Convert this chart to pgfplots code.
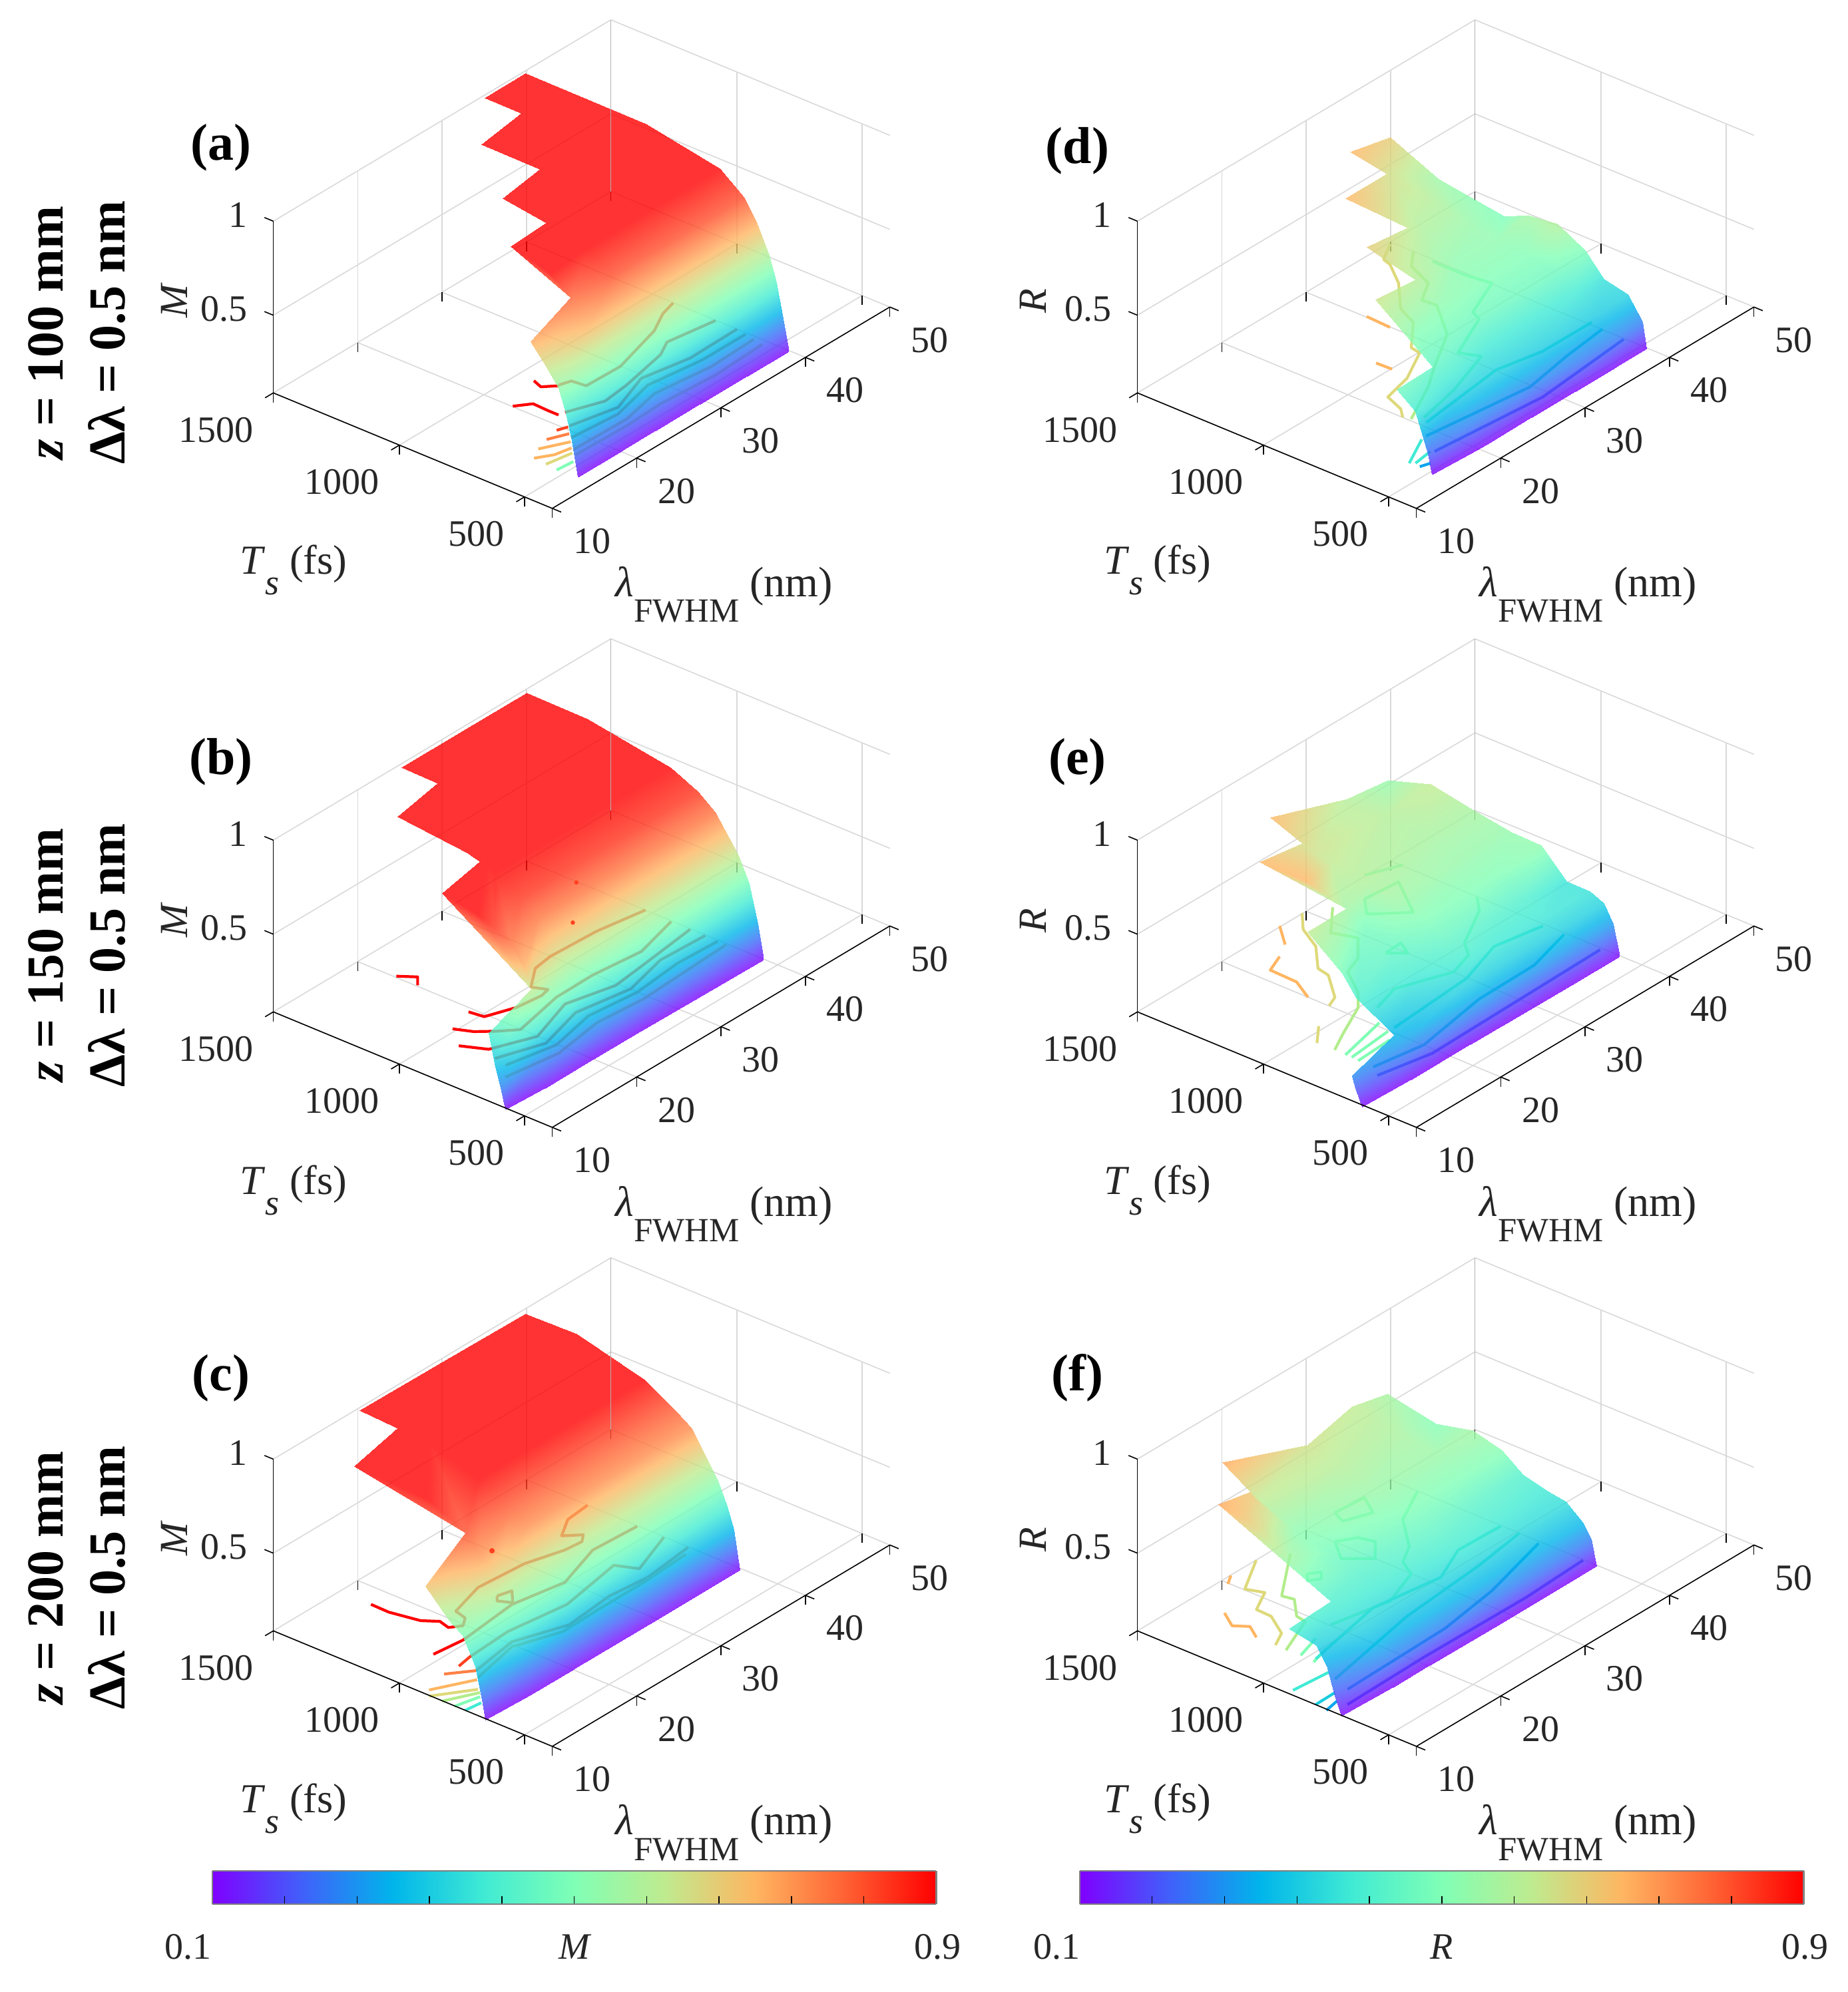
\documentclass[border=0pt]{standalone}
\usepackage{fontspec}
\usepackage{pgfplots}
\pgfplotsset{compat=1.18}
\setmainfont{Liberation Serif}
\definecolor{tk}{gray}{0.15}
\definecolor{cA}{rgb}{1,.25,.12}
\definecolor{cB}{rgb}{1,.5,.27}
\definecolor{cC}{rgb}{1,.71,.38}
\definecolor{cD}{rgb}{.87,.85,.48}
\definecolor{cE}{rgb}{.7,.93,.55}
\definecolor{cF}{rgb}{.5,1,.71}
\definecolor{cG}{rgb}{.25,.92,.83}
\definecolor{cH}{rgb}{.1,.8,.88}
\definecolor{cI}{rgb}{.05,.65,.93}
\definecolor{cJ}{rgb}{.25,.38,.98}
\pgfplotsset{colormap={rb}{rgb=(.5,0,1) rgb=(.25,.38,.98) rgb=(0,.71,.92) rgb=(.25,.92,.83) rgb=(.5,1,.71) rgb=(.75,.92,.56) rgb=(1,.71,.38) rgb=(1,.38,.2) rgb=(1,0,0)}}
\pgfplotsset{panel/.style={
  x={(3.169pt,1.891pt)}, y={(-0.0923pt,0.03822pt)}, z={(0pt,70.64pt)},
  disabledatascaling, clip=false, anchor=origin,
  xmin=10,xmax=50,ymin=365,ymax=1500,zmin=.087,zmax=1,
  xtick={10,20,30,40,50}, ytick={478,987,1500}, yticklabels={500,1000,1500}, ztick={.5,1},
  grid=major, grid style={gray!30,line width=.4pt},
  axis line style={draw=none}, tick align=outside, major tick length=3.6pt, tick pos=left,
  tick style={black,line width=.4pt}, ztick style={draw=none},
  /pgf/number format/assume math mode=true,
  tick label style={font=\fontsize{14}{14}\selectfont,text=tk},
  xticklabel style={anchor=center,xshift=11.6pt,yshift=-11pt},
  yticklabel style={anchor=east,xshift=-1pt,yshift=-12pt},
  zticklabel style={anchor=east,xshift=-3pt,yshift=1pt},
  /pgf/number format/1000 sep={},
  colormap name=rb, point meta min=.1, point meta max=.9,
  execute at end axis={\draw[black,line width=.4pt] (axis cs:10,1500,.087)--(axis cs:10,365,.087)--(axis cs:50,365,.087);
   \draw[black,line width=.4pt] (axis cs:10,1500,.087)--(axis cs:10,1500,1);
   \draw[black,line width=.4pt] (axis cs:10,1500,.5)--(axis cs:10,1536,.5);
   \draw[black,line width=.4pt] (axis cs:10,1500,1)--(axis cs:10,1536,1);
   \draw[gray!60,line width=.4pt] (axis cs:50,1500,.087)--(axis cs:50,1500,1);},
}, srf/.style={surf,shader=interp,opacity=.8,mesh/cols=9,point meta=z}, srg/.style={surf,shader=interp,opacity=.8,mesh/cols=10,point meta=z}, ctr/.style={line width=1.05pt,no marks,line join=round},
cbar/.style={xmin=.1,xmax=.9,ymin=0,ymax=1,anchor=south west,width=271.9pt,height=12.4pt,scale only axis,xtick={.18,.26,.34,.42,.5,.58,.66,.74,.82},ytick=\empty,xticklabels={},xtick pos=bottom,tick align=inside,major tick length=3pt,tick style={black,line width=.35pt},axis line style={gray,line width=.6pt},colormap name=rb,point meta min=.1,point meta max=.9,view={0}{90}}}
\newcommand\ptext[4]{%
\begin{scope}[shift={(#1,#2)}]
\node[font=\fontsize{15.5}{16}\selectfont,text=tk] at (231,449) {\textit{T}\raisebox{-.5em}{\fontsize{13.5}{14}\selectfont\textit{s}} (fs)};
\node[font=\fontsize{16}{16}\selectfont,text=tk] at (570,468) {\textit{λ}\raisebox{-.6em}{\fontsize{12.7}{13}\selectfont FWHM} (nm)};
\node[rotate=90,font=\itshape\fontsize{15}{15}\selectfont,text=tk] at (#4,237) {#3};
\end{scope}}
\newcommand\sidetext[3]{%
\node[rotate=90,font=\bfseries\fontsize{19.5}{20}\selectfont] at (36,#1) {\textit{z} = #2 mm};
\node[rotate=90,font=\bfseries\fontsize{19.5}{20}\selectfont] at (84,#1) {Δλ = 0.5 nm};}
\begin{document}
\begin{tikzpicture}
\path[use as bounding box] (0,0) rectangle (693.75pt,-748.25pt);
% (a)
\begin{axis}[panel,at={(207.4pt,-190.97pt)}]
\addplot3[ctr,color=red] coordinates {(18.28,724,.35)(17.9,683,.35)(18.89,644,.35)};
\addplot3[ctr,color=red] coordinates {(14.27,672,.35)(15.54,633,.35)(15.46,570,.35)(15.46,527,.35)};
\addplot3[ctr,color=cA] coordinates {(19.37,669,.087)(20.32,655,.087)};
\addplot3[ctr,color=cB] coordinates {(17.81,656,.087)(19.58,625,.087)};
\addplot3[ctr,color=cC] coordinates {(16.29,638,.087)(18.7,589,.087)};
\addplot3[ctr,color=cC] coordinates {(15,611,.087)(16.39,576,.087)(18.02,562,.087)};
\addplot3[ctr,color=cD] coordinates {(14.87,558,.087)(17.46,540,.087)};
\addplot3[ctr,color=cF] coordinates {(14.71,509,.087)(16.52,503,.087)};
\addplot3[ctr,color=red] coordinates {(18.97,647,.35)(20.07,633,.35)(20.23,578,.35)(24.15,574,.35)(29.98,636,.35)(32.38,684,.35)(34.17,703,.35)};
\addplot3[ctr,color=red] coordinates {(16.09,522,.35)(19.36,471,.35)(22.27,484,.35)(27.5,525,.35)(29.28,560,.35)(34.15,530,.35)};
\addplot3[ctr,color=cA] coordinates {(20.5,656,.087)(25.06,614,.087)(29.57,675,.087)(34.33,639,.087)(39.99,643,.087)};
\addplot3[ctr,color=cB] coordinates {(19.21,604,.087)(24.26,587,.087)(29.1,632,.087)(34.76,602,.087)(39.81,602,.087)};
\addplot3[ctr,color=cC] coordinates {(17.92,551,.087)(24.08,546,.087)(28.41,582,.087)(34.38,554,.087)(39.62,562,.087)};
\addplot3[ctr,color=cD] coordinates {(17.42,525,.087)(23.29,519,.087)(27.53,526,.087)(33.58,510,.087)(39.44,521,.087)};
\addplot3[srf] coordinates {
(39.6,420,.1)(39.6,445,.28)(39.6,470,.44)(39.6,500,.57)(39.6,550,.71)(39.6,600,.82)(39.6,700,.92)(39.6,1000,.995)(39.6,1490,1)
(34.75,420,.1)(34.75,445,.28)(34.75,470,.44)(34.75,500,.57)(34.75,550,.71)(34.75,600,.82)(34.75,700,.92)(34.75,1000,.995)(34.75,1490,1)
(34.7,420,.1)(34.7,445,.28)(34.7,470,.44)(34.7,500,.57)(34.7,550,.71)(34.7,600,.82)(34.7,700,.92)(34.7,1000,.995)(34.7,1340,1)
(29.15,420,.1)(29.15,445,.28)(29.15,470,.44)(29.15,500,.57)(29.15,550,.71)(29.15,600,.82)(29.15,700,.92)(29.15,1000,.995)(29.15,1310,1)
(29.1,420,.1)(29.1,445,.28)(29.1,470,.44)(29.1,500,.57)(29.1,550,.71)(29.1,600,.82)(29.1,700,.92)(29.1,900,.995)(29.1,1070,1)
(23.85,420,.1)(23.85,445,.28)(23.85,470,.44)(23.85,500,.57)(23.85,550,.71)(23.85,600,.82)(23.85,700,.92)(23.85,900,.995)(23.85,1042,1)
(23.8,420,.1)(23.8,445,.28)(23.8,470,.44)(23.8,500,.57)(23.8,550,.71)(23.8,600,.82)(23.8,700,.92)(23.8,780,.95)(23.8,855,.98)
(20,420,.1)(20,445,.28)(20,470,.44)(20,500,.57)(20,550,.71)(19.9,630,.8)(19.5,700,.9)(19.2,780,.95)(19,843,.98)
(19.9,420,.1)(19.9,445,.28)(19.9,470,.44)(19.9,500,.57)(19.9,550,.71)(19.9,630,.8)(19.9,630,.8)(19.9,630,.8)(19.9,630,.8)
(14.66,420,.1)(14.66,445,.28)(14.66,470,.41)(14.66,500,.53)(14.66,550,.62)(14.66,612,.715)(14.66,612,.715)(14.66,612,.715)(14.66,612,.715)
};
\end{axis}
% (b)
\begin{axis}[panel,at={(207.4pt,-423.47pt)}]
\addplot3[ctr,color=red] coordinates {(13.68,832,.35)(13.88,775,.35)(16.51,735,.35)(19.13,722,.35)(20.16,731,.35)(19.62,782,.35)(22.02,847,.35)(24.13,859,.35)(29.38,849,.35)(34.22,817,.35)};
\addplot3[ctr,color=red] coordinates {(10.91,802,.35)(11.62,740,.35)(12.79,686,.35)(14.12,636,.35)(19.66,680,.35)(24,682,.35)(29.16,660,.35)(34.11,709,.35)};
\addplot3[ctr,color=red] coordinates {(9.23,719,.35)(10.27,633,.35)(14.15,568,.35)(19.28,632,.35)(23.94,585,.35)(28.87,607,.35)(34.12,632,.35)};
\addplot3[ctr,color=cA] coordinates {(9.5,581,.35)(13.77,520,.35)(18.79,572,.35)(24.26,535,.35)(29.09,580,.35)(34.12,571,.35)};
\addplot3[ctr,color=cB] coordinates {(9.22,528,.35)(14.09,488,.35)(19.01,528,.35)(24.17,506,.35)(29.52,526,.35)(34.06,518,.35)};
\addplot3[ctr,color=cC] coordinates {(13.62,680,.087)(18.99,648,.087)(24.43,679,.087)(29.48,663,.087)(39.88,683,.087)};
\addplot3[ctr,color=red] coordinates {(14.36,1149,.35)(15.31,1095,.35)(14.32,1061,.35)};
\addplot3[srf] coordinates {
(39.6,522,.1)(39.6,547,.28)(39.6,582,.475)(39.6,625,.6)(39.6,720,.78)(39.6,790,.85)(39.6,900,.92)(39.6,1240,.995)(39.6,1485,1)
(32,525,.1)(32,547,.28)(32,582,.475)(32,625,.6)(32,720,.78)(32,790,.85)(32,900,.92)(32,1240,.995)(32,1485,1)
(24.8,530,.1)(24.8,550,.28)(24.8,582,.475)(24.8,625,.6)(24.8,720,.78)(24.8,790,.85)(24.8,900,.92)(24.8,1240,.99)(24.8,1486,1)
(24.75,530,.1)(24.75,550,.28)(24.75,582,.475)(24.75,625,.6)(24.75,720,.78)(24.75,790,.85)(24.75,900,.92)(24.75,1150,.99)(24.75,1335,1)
(18.82,530,.1)(18.82,550,.28)(18.82,582,.475)(18.82,625,.6)(18.82,720,.78)(18.82,790,.85)(18.82,900,.92)(18.82,1100,.99)(18.82,1298,1)
(18.8,530,.1)(18.8,550,.28)(18.8,582,.475)(18.8,625,.6)(18.8,720,.78)(18.8,790,.85)(18.8,900,.92)(18.8,925,.95)(18.8,944,.97)
(14,530,.1)(14,550,.3)(14,570,.5)(13.9,585,.6)(13.77,607,.7)(14.18,673,.78)(13.8,729,.85)(13.46,786,.9)(12.63,905,.97)
(13.9,530,.1)(13.9,550,.3)(13.9,570,.5)(13.9,585,.6)(13.9,585,.6)(13.9,585,.6)(13.9,585,.6)(13.9,585,.6)(13.9,585,.6)
(9.55,540,.1)(8.89,534,.22)(9.35,576,.33)(10.63,646,.42)(10.63,646,.42)(10.63,646,.42)(10.63,646,.42)(10.63,646,.42)(10.63,646,.42)
};
\addplot3[only marks,mark=*,mark size=.6pt,color=cA] coordinates {(34.09,1094,.35)(29.21,941,.35)};
\end{axis}
% (c)
\begin{axis}[panel,at={(207.4pt,-655.97pt)}]
\addplot3[ctr,color=red] coordinates {(34.19,1052,.35)(31.56,1042,.35)(29.34,991,.35)(30.51,943,.35)(29.66,919,.35)(27.84,926,.35)(24.29,968,.35)(19.23,984,.35)(15.37,942,.35)(15.03,892,.35)(14.01,866,.35)(13.09,894,.35)(13.4,939,.35)(12.55,988,.35)(12,1099,.35)(12.05,1173,.35)};
\addplot3[ctr,color=red] coordinates {(9.22,822,.35)(12.34,808,.35)(18.89,834,.35)(24.06,796,.35)(29.18,859,.35)(34.13,848,.35)};
\addplot3[ctr,color=cA] coordinates {(9.07,713,.35)(10.65,724,.35)(15.5,735,.35)(21.57,702,.35)(28.42,747,.35)(29.26,672,.35)(34.15,740,.35)};
\addplot3[ctr,color=cB] coordinates {(7.42,717,.35)(9.37,654,.35)(14.51,684,.35)(19.28,615,.35)(24.62,634,.35)(28.67,617,.35)(34.14,641,.35)};
\addplot3[ctr,color=cC] coordinates {(10.63,888,.087)(14.16,814,.087)};
\addplot3[ctr,color=cC] coordinates {(14.47,821,.087)(19.71,863,.087)(23.98,802,.087)(28.62,806,.087)(33.67,806,.087)(39.03,818,.087)};
\addplot3[ctr,color=cD] coordinates {(9.91,863,.087)(13.08,773,.087)};
\addplot3[ctr,color=cE] coordinates {(9.94,812,.087)(12.79,755,.087)};
\addplot3[ctr,color=cF] coordinates {(9.96,761,.087)(12.31,738,.087)};
\addplot3[ctr,color=cG] coordinates {(10,719,.087)(11.66,711,.087)};
\addplot3[ctr,color=red] coordinates {(19.16,904,.35)(20.48,889,.35)(19.13,839,.35)(18.57,884,.35)(19.16,904,.35)};
\addplot3[srf] coordinates {
(39.5,615,.1)(39.5,641,.3)(39.5,667,.41)(39.5,701,.52)(39.5,814,.75)(39.5,874,.8)(39.5,1004,.9)(39.5,1280,.995)(39.3,1480,1)
(30,615,.1)(30,641,.3)(30,667,.41)(30,701,.52)(30,814,.75)(30,874,.8)(30,1004,.9)(30,1280,.99)(30,1485,1)
(19.9,615,.1)(19.9,641,.3)(19.9,667,.41)(19.9,701,.52)(19.9,814,.75)(19.9,874,.8)(19.9,1004,.9)(19.9,1280,.99)(19.9,1490,1)
(19.85,615,.1)(19.85,641,.3)(19.85,667,.41)(19.85,701,.52)(19.85,814,.75)(19.85,874,.8)(19.85,1004,.9)(19.85,1200,.98)(19.85,1327,1)
(14.65,615,.1)(14.65,641,.3)(14.65,667,.41)(14.65,701,.52)(14.65,745,.62)(14.65,814,.74)(14.61,878,.82)(13.74,995,.96)(13.13,1279,1)
(14.65,615,.1)(14.65,641,.3)(14.65,667,.41)(14.65,701,.52)(14.65,745,.62)(14.65,814,.74)(14.61,878,.82)(14.61,878,.82)(14.61,878,.82)
(9.57,622,.1)(9.57,637,.2)(9.57,663,.36)(9.57,715,.5)(9.57,760,.54)(9.57,802,.59)(9.58,868,.68)(9.58,868,.68)(9.58,868,.68)
};
\addplot3[only marks,mark=*,mark size=.8pt,color=cA] coordinates {(24.21,1098,.35)};
\end{axis}
% (d)
\begin{axis}[panel,at={(531.9pt,-190.97pt)}]
\addplot3[ctr,color=cD] coordinates {(33.91,1293,.35)(31.8,1247,.35)(31.52,1211,.35)(29.74,1115,.35)(26.86,1008,.35)(25.87,922,.35)(22.79,825,.35)(22.6,784,.35)(18.99,712,.35)(15.88,683,.35)(15.11,604,.35)(14.21,565,.35)};
\addplot3[ctr,color=cE] coordinates {(34.24,1209,.35)(32.35,1153,.35)(31.19,1044,.35)(28.88,991,.35)(29.01,935,.35)(26.13,793,.35)(21.73,694,.35)(19.04,627,.35)(14.42,538,.35)};
\addplot3[ctr,color=cF] coordinates {(33.97,1122,.35)(33.93,991,.35)(34.28,891,.35)(29.96,821,.35)(29.47,778,.35)(24.46,692,.35)(25.19,622,.35)(19.87,552,.35)(15.24,514,.35)};
\addplot3[ctr,color=cG] coordinates {(14.75,488,.35)(24.32,532,.35)(28.78,495,.35)(34.53,494,.35)};
\addplot3[ctr,color=cH] coordinates {(13.15,434,.35)(23.98,382,.35)(29.31,418,.35)(34.25,441,.35)};
\addplot3[ctr,color=cJ] coordinates {(17.57,551,.087)(29.2,510,.087)(39.89,548,.087)};
\addplot3[ctr,color=cC] coordinates {(24.29,1058,.35)(24.15,958,.35)};
\addplot3[ctr,color=cC] coordinates {(19.29,848,.35)(19.35,785,.35)};
\addplot3[ctr,color=cG] coordinates {(14.95,564,.087)(18.35,630,.087)};
\addplot3[ctr,color=cG] coordinates {(15.26,549,.087)(17.37,561,.087)};
\addplot3[ctr,color=cI] coordinates {(15.06,525,.087)(15.98,513,.087)};
\addplot3[srg] coordinates {
(39.6,445,.1)(39.6,462,.235)(39.6,523,.35)(39.6,618,.38)(39.6,695,.49)(39.6,808,.57)(39.6,929,.55)(39.6,1024,.49)(39.6,1291,.544)(39.6,1489,.66)
(36,445,.1)(36,462,.235)(36,523,.34)(36,618,.4)(36,695,.47)(36,808,.5)(36,929,.52)(36,1024,.53)(35.81,1372,.63)(35.05,1496,.7)
(35.95,445,.1)(35.95,462,.235)(35.95,523,.34)(35.95,618,.4)(35.95,695,.47)(35.95,808,.5)(35.95,929,.52)(35.95,1024,.53)(35.81,1372,.63)(35.81,1372,.63)
(31.2,445,.1)(31.2,462,.235)(31.2,523,.35)(31.2,618,.4)(31.2,695,.47)(31.2,808,.5)(31.2,929,.52)(31.2,1024,.55)(31.15,1128,.6)(29.39,1320,.7)
(31.15,445,.1)(31.15,462,.235)(31.15,523,.35)(31.15,618,.4)(31.15,695,.47)(31.15,808,.5)(31.15,929,.52)(31.15,1024,.55)(31.15,1128,.6)(31.15,1128,.6)
(26,445,.1)(26,462,.235)(26,523,.35)(26,618,.4)(26,695,.47)(26,808,.52)(25.95,917,.58)(25.8,1010,.62)(25.7,1060,.64)(25.61,1103,.66)
(25.95,445,.1)(25.95,462,.235)(25.95,523,.35)(25.95,618,.4)(25.95,695,.47)(25.95,808,.52)(25.95,917,.58)(25.95,917,.58)(25.95,917,.58)(25.95,917,.58)
(21,445,.1)(21,462,.235)(21,523,.35)(19.42,623,.45)(21.07,749,.5)(22.35,827,.55)(21.8,860,.58)(21.2,885,.6)(20.8,895,.61)(20.73,901,.62)
(19.4,445,.1)(19.4,462,.235)(19.4,523,.35)(19.42,623,.45)(19.42,623,.45)(19.42,623,.45)(19.42,623,.45)(19.42,623,.45)(19.42,623,.45)(19.42,623,.45)
(14.43,455,.1)(14.43,470,.2)(14.43,521,.4)(14.43,597,.477)(14.43,597,.477)(14.43,597,.477)(14.43,597,.477)(14.43,597,.477)(14.43,597,.477)(14.43,597,.477)
};
\end{axis}
% (e)
\begin{axis}[panel,at={(531.9pt,-423.47pt)}]
\addplot3[ctr,color=cC] coordinates {(21.18,1305,.35)(19.26,1217,.35)};
\addplot3[ctr,color=cC] coordinates {(17.59,1182,.35)(15.55,1150,.35)(15.44,1039,.35)(14.19,950,.35)};
\addplot3[ctr,color=cD] coordinates {(23.78,1303,.35)(21.92,1235,.35)(20.54,1136,.35)(18.06,1042,.35)(17.77,990,.35)(15.49,885,.35)(14.23,865,.35)};
\addplot3[ctr,color=cD] coordinates {(11.33,808,.35)(9.26,744,.35)};
\addplot3[ctr,color=cE] coordinates {(25.95,1253,.35)(22.86,1155,.35)(23.59,1069,.35)(21.2,987,.35)(19.1,957,.35)(17.22,850,.35)(15.43,788,.35)(11.72,721,.35)(9.32,674,.35)};
\addplot3[ctr,color=cF] coordinates {(9.24,628,.35)(14.68,676,.35)};
\addplot3[ctr,color=cF] coordinates {(9.27,603,.35)(14.09,621,.35)};
\addplot3[ctr,color=cF] coordinates {(9.18,574,.35)(13.19,582,.35)};
\addplot3[ctr,color=cF] coordinates {(28.48,1210,.35)(32.13,1197,.35)(29.26,1039,.35)(26.8,1144,.35)(28.48,1210,.35)};
\addplot3[ctr,color=cF] coordinates {(23.14,941,.35)(25.07,946,.35)(24.22,888,.35)(23.14,941,.35)};
\addplot3[ctr,color=cF] coordinates {(31.27,1306,.35)(34.33,1255,.35)};
\addplot3[ctr,color=cF] coordinates {(34.15,947,.35)(32.66,887,.35)(28.16,793,.35)(26.96,735,.35)(24.25,702,.35)(19.38,777,.35)(16.36,742,.35)};
\addplot3[ctr,color=cG] coordinates {(14.8,620,.35)(24.07,645,.35)(29.2,708,.35)(33.96,673,.35)};
\addplot3[ctr,color=cH] coordinates {(9.19,513,.35)(14.25,480,.35)(22.3,532,.35)(28.97,536,.35)(33.99,588,.35)};
\addplot3[ctr,color=cJ] coordinates {(14.19,668,.087)(19.46,625,.087)(39.75,639,.087)};
\addplot3[srg] coordinates {
(39.6,555,.1)(39.6,581,.262)(39.6,619,.35)(39.6,676,.383)(39.6,771,.385)(39.6,875,.519)(39.6,995,.526)(39.6,1151,.558)(39.6,1324,.6)(39.6,1496,.53)
(34.3,555,.1)(34.3,581,.26)(34.3,619,.35)(34.3,676,.39)(34.3,771,.42)(34.3,875,.5)(34.3,995,.53)(34.3,1151,.56)(34.3,1324,.58)(34.3,1480,.58)
(25.8,558,.1)(25.8,581,.26)(25.8,619,.35)(25.8,676,.4)(25.8,771,.45)(25.8,875,.5)(25.8,995,.55)(25.8,1151,.58)(25.8,1324,.62)(25.75,1500,.7)
(25.7,558,.1)(25.7,581,.26)(25.7,619,.35)(25.7,676,.4)(25.7,771,.45)(25.7,875,.5)(25.7,995,.55)(25.7,1100,.57)(25.7,1250,.6)(25.76,1372,.63)
(22.1,560,.1)(22.1,581,.26)(22.1,619,.35)(22.1,676,.38)(22.1,771,.42)(22.1,875,.46)(22.1,995,.48)(22.09,1065,.55)(20.06,1163,.7)(19.98,1345,.7)
(22.05,560,.1)(22.05,581,.26)(22.05,619,.35)(22.05,676,.38)(22.05,771,.42)(22.05,875,.46)(22.05,995,.48)(22.09,1065,.55)(22.09,1065,.55)(22.09,1065,.55)
(15.1,562,.1)(15.1,575,.2)(15.1,600,.27)(15.1,630,.3)(15,700,.36)(14.97,781,.42)(15.6,850,.47)(16.31,914,.52)(16.32,970,.56)(16.32,1026,.6)
(15.05,562,.1)(15.05,575,.2)(15.05,600,.27)(15.1,630,.3)(15.1,630,.3)(15.1,630,.3)(15.1,630,.3)(15.1,630,.3)(15.1,630,.3)(15.1,630,.3)
(9.48,567,.1)(9.4,590,.18)(9.38,600,.22)(9.36,606,.25)(9.36,606,.25)(9.36,606,.25)(9.36,606,.25)(9.36,606,.25)(9.36,606,.25)(9.36,606,.25)
};
\end{axis}
% (f)
\begin{axis}[panel,at={(531.9pt,-655.97pt)}]
\addplot3[ctr,color=cC] coordinates {(14.09,1272,.35)(15.22,1299,.35)};
\addplot3[ctr,color=cC] coordinates {(10.53,1164,.35)(9.39,1094,.35)(10.18,1048,.35)(9.21,989,.35)};
\addplot3[ctr,color=cD] coordinates {(18.25,1300,.35)(14.31,1211,.35)(14.88,1149,.35)(12.48,1101,.35)(12.4,1038,.35)(10.92,945,.35)(9.23,912,.35)};
\addplot3[ctr,color=cE] coordinates {(20.7,1245,.35)(15.3,1095,.35)(15.52,1051,.35)(13.64,977,.35)(13.46,936,.35)(9.14,866,.35)};
\addplot3[ctr,color=cF] coordinates {(9.26,810,.35)(11.97,842,.35)};
\addplot3[ctr,color=cF] coordinates {(9.09,752,.35)(11.3,776,.35)};
\addplot3[ctr,color=cF] coordinates {(34.25,1192,.35)(30.14,1112,.35)(27.27,987,.35)(25.17,941,.35)(24.18,873,.35)(19.97,814,.35)(14.3,861,.35)};
\addplot3[ctr,color=cF] coordinates {(27.64,1302,.35)(30.87,1293,.35)(29.5,1211,.35)(27.02,1250,.35)(27.64,1302,.35)};
\addplot3[ctr,color=cF] coordinates {(24.26,1186,.35)(25.86,1146,.35)(26.22,1089,.35)(24.22,1021,.35)(22.57,1103,.35)(24.26,1186,.35)};
\addplot3[ctr,color=cF] coordinates {(19.13,1123,.35)(20.01,1096,.35)(19.21,1068,.35)(18.34,1095,.35)(19.13,1123,.35)};
\addplot3[ctr,color=cG] coordinates {(9.58,760,.35)(18.35,828,.35)(25.22,788,.35)(29.24,856,.35)(34.09,850,.35)};
\addplot3[ctr,color=cG] coordinates {(8.12,632,.35)(18.99,712,.35)(28.48,744,.35)(34.22,777,.35)};
\addplot3[ctr,color=cG] coordinates {(10.59,887,.087)(14.41,874,.087)};
\addplot3[ctr,color=cH] coordinates {(10.01,775,.087)(12.33,777,.087)};
\addplot3[ctr,color=cI] coordinates {(9.85,726,.087)(11.44,738,.087)};
\addplot3[ctr,color=cI] coordinates {(7.55,561,.35)(19.46,572,.35)(26.11,611,.35)(33.95,690,.35)};
\addplot3[ctr,color=cJ] coordinates {(11.56,699,.087)(20.84,706,.087)(32.76,701,.087)(39.92,714,.087)};
\addplot3[srg] coordinates {
(39.6,648,.1)(39.6,670,.232)(39.6,705,.304)(39.6,774,.374)(39.6,843,.392)(39.6,947,.425)(39.6,1033,.506)(39.6,1154,.548)(39.6,1301,.504)(39.6,1499,.557)
(35.4,648,.1)(35.4,670,.232)(35.4,705,.3)(35.4,774,.37)(35.4,843,.4)(35.4,947,.44)(35.4,1033,.5)(35.4,1154,.54)(35.4,1301,.56)(35.47,1500,.6)
(28.3,648,.1)(28.3,670,.232)(28.3,705,.3)(28.3,774,.37)(28.3,843,.41)(28.3,947,.46)(28.3,1033,.5)(28.3,1154,.54)(28.3,1300,.58)(28.31,1437,.62)
(19.9,650,.1)(19.9,672,.232)(19.9,710,.3)(19.9,780,.36)(19.9,860,.4)(19.9,960,.44)(19.9,1060,.48)(19.9,1200,.52)(19.9,1350,.6)(19.91,1495,.72)
(19.85,650,.1)(19.85,672,.232)(19.85,710,.3)(19.85,780,.36)(19.85,860,.4)(19.85,960,.44)(19.85,1060,.48)(19.85,1200,.52)(19.85,1280,.6)(19.83,1349,.66)
(15.54,650,.1)(15.54,672,.23)(15.54,710,.3)(15.54,780,.36)(15.54,904,.42)(15.51,1007,.5)(15.78,1085,.55)(15.97,1195,.63)(15.4,1260,.68)(14.81,1337,.72)
(15.5,650,.1)(15.5,672,.23)(15.5,710,.3)(15.5,780,.36)(15.54,904,.42)(15.54,904,.42)(15.54,904,.42)(15.54,904,.42)(15.54,904,.42)(15.54,904,.42)
(9.64,659,.1)(9.88,693,.18)(10.85,760,.28)(11.19,815,.35)(10.25,892,.42)(10.25,892,.42)(10.25,892,.42)(10.25,892,.42)(10.25,892,.42)(10.25,892,.42)
};
\end{axis}
% colour bars
\begin{axis}[cbar,at={(79.7pt,-715.2pt)}]
\addplot3[surf,shader=interp,point meta=x] coordinates {(.1,0,0)(.9,0,0)

(.1,1,0)(.9,1,0)};
\end{axis}
\begin{axis}[cbar,at={(405.5pt,-715.2pt)}]
\addplot3[surf,shader=interp,point meta=x] coordinates {(.1,0,0)(.9,0,0)

(.1,1,0)(.9,1,0)};
\end{axis}
\begin{scope}[x=.4771pt,y=-.4771pt]
\foreach \t/\xx/\yy in {(a)/174/116,(b)/174/600,(c)/174/1085,(d)/848/119,(e)/848/600,(f)/848/1085}
  \node[font=\bfseries\fontsize{19.5}{20}\selectfont] at (\xx,\yy) {\t};
\sidetext{262}{100}{}
\sidetext{752}{150}{}
\sidetext{1242}{200}{}
\ptext{0}{0}{M}{137}\ptext{0}{488}{M}{137}\ptext{0}{975}{M}{137}
\ptext{680}{0}{R}{133}\ptext{680}{488}{R}{133}\ptext{680}{975}{R}{133}
\foreach \xx/\t/\f in {148/0.1/\upshape,452/M/\itshape,738/0.9/\upshape,832/0.1/\upshape,1135/R/\itshape,1421/0.9/\upshape}
  \node[font=\f\fontsize{14}{14}\selectfont,text=tk] at (\xx,1533) {\t};
\end{scope}
\end{tikzpicture}
\end{document}
